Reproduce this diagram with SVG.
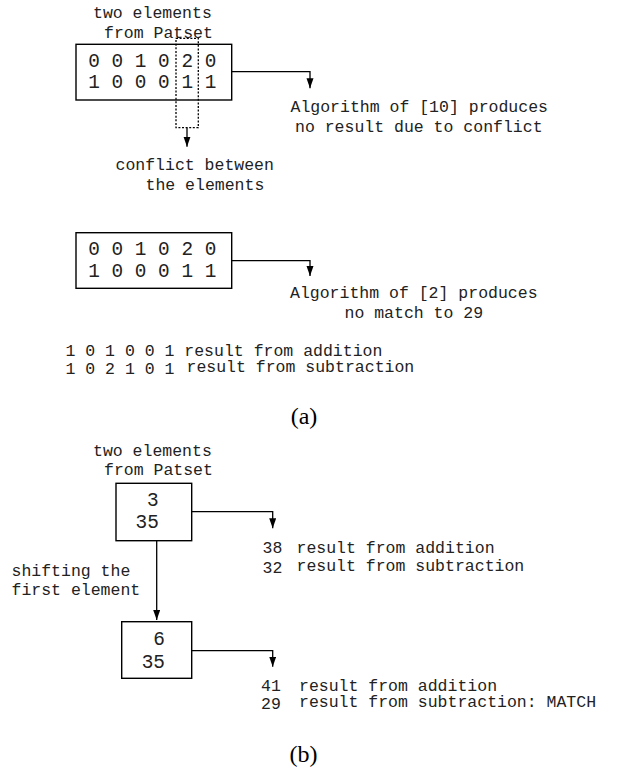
<svg xmlns="http://www.w3.org/2000/svg" width="618" height="767" viewBox="0 0 618 767">
<style>
  .box { fill: #fff; stroke: #000; stroke-width: 1.4; }
  .dash { fill: none; stroke: #000; stroke-width: 1.3; stroke-dasharray: 2 1.6; }
  .edge { fill: none; stroke: #000; stroke-width: 1.3; marker-end: url(#arr); }
  .t { font-family: "Liberation Mono", "Courier New", monospace; font-size: 16.5px; fill: #222; }
  .d { font-family: "Liberation Mono", "Courier New", monospace; font-size: 19.4px; fill: #222; }
  .cap { font-family: "Liberation Serif", "Times New Roman", serif; font-size: 24px; fill: #000; text-anchor: middle; }
</style>
<defs>
  <marker id="arr" markerUnits="userSpaceOnUse" markerWidth="10" markerHeight="8" refX="10" refY="3.5" orient="auto">
    <path d="M0,0 L10,3.5 L0,7 z" fill="#000"/>
  </marker>
</defs>
<rect width="618" height="767" fill="#fff"/>

<g id="connectors">
  <polyline class="edge" points="231.7,71.7 310,71.7 310,88.3"/>
  <polyline class="edge" points="187,127.7 187,146.7"/>
  <polyline class="edge" points="231.7,260.7 310,260.7 310,276"/>
  <polyline class="edge" points="191.7,511.7 272.7,511.7 272.7,528.3"/>
  <polyline class="edge" points="156.7,540.7 156.7,620"/>
  <polyline class="edge" points="191.7,650.7 272.7,650.7 272.7,666.7"/>
</g>

<g id="part-a">
  <g id="label-a1">
    <text class="t" x="93" y="18">two elements</text>
    <text class="t" x="104" y="38">from Patset</text>
  </g>
  <g id="box1">
    <rect class="box" x="76" y="44.3" width="155.7" height="55.7"/>
    <text class="d" x="88.3" y="66.7">0 0 1 0 2 0</text>
    <text class="d" x="88.3" y="88.3">1 0 0 0 1 1</text>
  </g>
  <g id="conflict">
    <rect class="dash" x="176" y="38.3" width="22.3" height="89.4"/>
  </g>
  <g id="note-conflict">
    <text class="t" x="115.5" y="170">conflict between</text>
    <text class="t" x="145.5" y="190">the elements</text>
  </g>
  <g id="note-alg10">
    <text class="t" x="290.5" y="111.7">Algorithm of [10] produces</text>
    <text class="t" x="295" y="131.7">no result due to conflict</text>
  </g>
  <g id="box2">
    <rect class="box" x="76" y="232.7" width="155.7" height="55.6"/>
    <text class="d" x="88.3" y="255">0 0 1 0 2 0</text>
    <text class="d" x="88.3" y="276.7">1 0 0 0 1 1</text>
  </g>
  <g id="note-alg2">
    <text class="t" x="290" y="298.3">Algorithm of [2] produces</text>
    <text class="t" x="344.5" y="318.3">no match to 29</text>
  </g>
  <g id="results-a">
    <text class="t" x="65.5" y="355.5">1 0 1 0 0 1 result from addition</text>
    <text class="t" x="65.5" y="374">1 0 2 1 0 1</text>
    <text class="t" x="186.5" y="371.7">result from subtraction</text>
  </g>
  <text class="cap" x="304" y="424">(a)</text>
</g>

<g id="part-b">
  <g id="label-b1">
    <text class="t" x="93" y="455.5">two elements</text>
    <text class="t" x="104" y="475">from Patset</text>
  </g>
  <g id="box3">
    <rect class="box" x="116" y="483.3" width="75.7" height="57.4"/>
    <text class="d" x="147.1" y="506">3</text>
    <text class="d" x="135.5" y="528.3">35</text>
  </g>
  <g id="results-b1">
    <text class="t" x="262.5" y="552.7">38</text>
    <text class="t" x="296.5" y="552.7">result from addition</text>
    <text class="t" x="262.5" y="573">32</text>
    <text class="t" x="296.5" y="570.7">result from subtraction</text>
  </g>
  <g id="note-shift">
    <text class="t" x="11.5" y="575.5">shifting the</text>
    <text class="t" x="11.5" y="595">first element</text>
  </g>
  <g id="box4">
    <rect class="box" x="121.7" y="621.7" width="70" height="56.6"/>
    <text class="d" x="153.3" y="645">6</text>
    <text class="d" x="141.7" y="667.7">35</text>
  </g>
  <g id="results-b2">
    <text class="t" x="261" y="690.7">41</text>
    <text class="t" x="299" y="690.7">result from addition</text>
    <text class="t" x="261" y="709.3">29</text>
    <text class="t" x="299" y="706.7">result from subtraction: MATCH</text>
  </g>
  <text class="cap" x="303.5" y="761.5">(b)</text>
</g>
</svg>
